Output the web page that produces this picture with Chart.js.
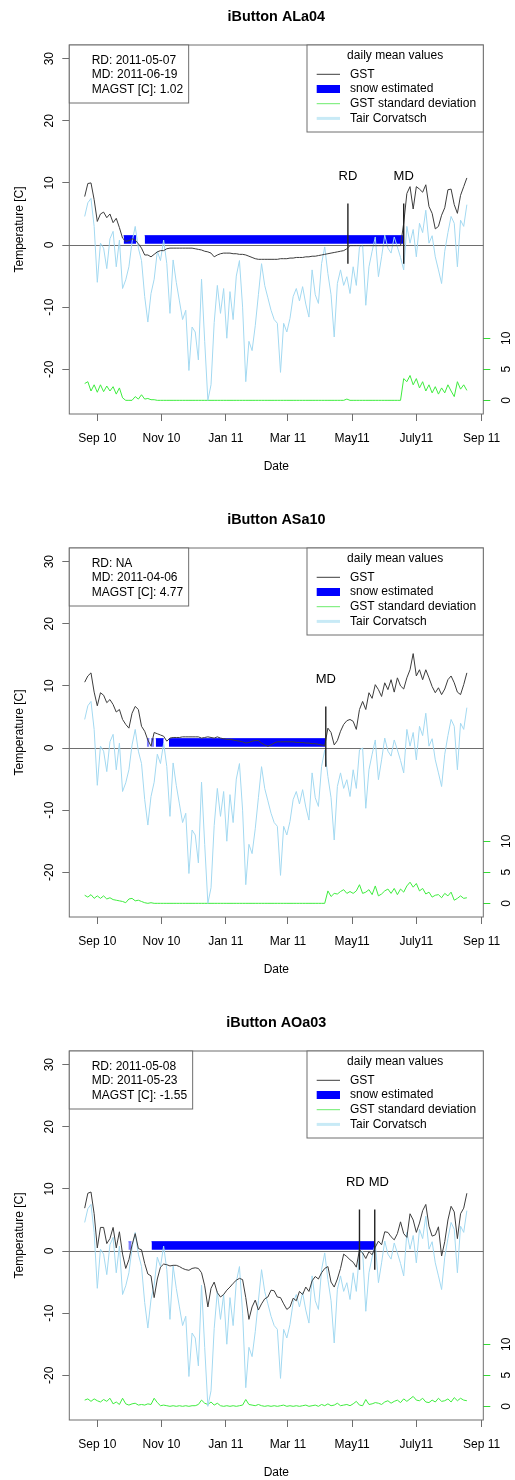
<!DOCTYPE html>
<html lang="en">
<head>
<meta charset="utf-8">
<title>iButton GST</title>
<script src="https://cdn.jsdelivr.net/npm/chart.js"></script>
<style>
  html, body { margin: 0; padding: 0; background: #fff; overflow: hidden; }
  .panel { position: absolute; left: 0; }
</style>
</head>
<body>
<canvas id="p0" class="panel" width="515" height="503" style="top:0px"></canvas>
<canvas id="p1" class="panel" width="515" height="503" style="top:503px"></canvas>
<canvas id="p2" class="panel" width="515" height="503" style="top:1006px"></canvas>
<script>
// daily means, read every 3rd day; day 0 = 2010-09-01
const firstDay = -12;
const stepDays = 3;

const tickDays = [0, 61, 122, 181, 242, 303, 365];
const tickLabels = ['Sep 10', 'Nov 10', 'Jan 11', 'Mar 11', 'May11', 'July11', 'Sep 11'];
const tempTicks = [-20, -10, 0, 10, 20, 30];
const sdTicks = [0, 5, 10];

// same air temperature in every panel
const tairCorvatsch = [
  4.6, 6.8, 7.5, 3.0, -6.0, 0.3, -0.5, -3.8, 1.0, 2.2,
  -3.5, 0.8, -7.0, -5.6, -3.5, 0.5, 3.0, -0.5, -2.5, -8.3,
  -12.4, -7.8, -5.5, -1.0, -2.5, 0.8, -3.0, -11.0, -2.4, -6.0,
  -9.0, -12.0, -10.5, -20.2, -13.2, -14.0, -18.5, -5.5, -15.5, -25.0,
  -22.5, -12.5, -6.5, -11.0, -7.0, -15.0, -7.5, -12.0, -5.0, -2.5,
  -10.0, -22.0, -15.5, -17.0, -13.0, -8.0, -3.0, -6.5, -8.5, -10.5,
  -12.0, -12.6, -20.5, -12.6, -14.0, -11.8, -8.3, -7.0, -9.0, -6.7,
  -9.5, -11.6, -4.0, -8.0, -9.4, -3.0, -0.3, -4.6, -8.0, -14.8,
  -6.2, -4.0, -6.5, -5.1, -7.8, -3.5, -6.5, -0.3, 0.0, -9.7,
  -3.5, -1.0, 1.3, -5.1, -1.9, 1.6, -0.5, -1.3, 1.3, -0.3,
  -2.0, -4.0, 3.0, 0.3, 2.5, -1.9, 3.5, 2.0, 5.6, 0.3,
  1.5, -1.9, -4.0, -6.2, -1.0, 2.0, 4.6, 3.5, -3.5, 4.0,
  3.0, 6.5
];

// ALa04
const gstALa04 = [
  7.8, 9.9, 10.0, 7.3, 3.8, 5.0, 5.3, 4.4, 5.0, 3.6,
  4.3, 2.8, 1.1, 0.6, 0.7, 1.0, 0.8, 0.2, -0.5, -1.6,
  -1.6, -1.9, -1.5, -1.1, -0.9, -0.9, -0.6, -0.5, -0.5, -0.5,
  -0.5, -0.5, -0.5, -0.5, -0.5, -0.6, -0.7, -0.8, -1.0, -1.1,
  -1.3, -1.9, -1.6, -1.4, -1.3, -1.3, -1.3, -1.4, -1.4, -1.5,
  -1.5, -1.6, -1.8, -2.0, -2.2, -2.3, -2.3, -2.3, -2.3, -2.3,
  -2.3, -2.3, -2.2, -2.2, -2.2, -2.1, -2.1, -2.0, -2.0, -2.0,
  -1.9, -1.9, -1.8, -1.8, -1.7, -1.6, -1.5, -1.4, -1.3, -1.2,
  -1.1, -1.0, -0.9, -0.6, -0.1, -0.1, -0.1, -0.1, -0.1, -0.1,
  -0.1, -0.1, -0.1, -0.1, -0.1, -0.1, -0.1, -0.1, -0.1, -0.1,
  -0.1, 3.5, 8.3, 9.4, 5.8, 9.4, 9.0, 8.5, 9.7, 6.2,
  5.1, 2.6, 3.0, 4.8, 6.0, 8.9, 9.0, 6.5, 5.1, 8.0,
  9.4, 10.8
];
const sdALa04 = [
  2.7, 3.0, 1.5, 2.5, 1.3, 2.5, 1.4, 2.3, 1.5, 2.2,
  1.0, 2.0, 0.4, 0.0, 0.0, 0.0, 0.6, 0.2, 0.9, 0.2,
  0.3, 0.1, 0.1, 0, 0, 0, 0, 0, 0, 0,
  0, 0, 0, 0, 0, 0, 0, 0, 0, 0,
  0, 0, 0, 0, 0, 0, 0, 0, 0, 0,
  0, 0, 0, 0, 0, 0, 0, 0, 0, 0,
  0, 0, 0, 0, 0, 0, 0, 0, 0, 0,
  0, 0, 0, 0, 0, 0, 0, 0, 0, 0,
  0, 0, 0, 0.2, 0, 0, 0, 0, 0, 0,
  0, 0, 0, 0, 0, 0, 0, 0, 0, 0,
  0, 3.5, 3.0, 4.0, 2.5, 3.5, 2.0, 3.0, 1.5, 2.5,
  1.2, 2.2, 1.0, 2.0, 1.2, 2.5, 1.5, 0.6, 3.0, 1.8,
  2.5, 1.6
];
const snowStartALa04 = [25, 45];
const snowEndALa04 = [37, 291];
const markLabelsALa04 = ['RD', 'MD'];
const markDaysALa04 = [238, 291];
const infoALa04 = ['RD: 2011-05-07', 'MD: 2011-06-19', 'MAGST [C]: 1.02'];

// ASa10
const gstASa10 = [
  10.6, 11.6, 12.1, 9.0, 6.8, 8.9, 8.5, 7.3, 7.8, 7.0,
  5.8, 6.2, 4.6, 3.8, 3.2, 5.6, 6.7, 6.2, 3.5, 2.7,
  1.3, 0.3, 2.5, 2.3, 2.1, 1.9, 1.1, 1.6, 1.7, 1.7,
  1.7, 1.8, 1.8, 1.8, 1.8, 1.8, 1.8, 1.6, 1.7, 1.8,
  1.7, 1.6, 1.8, 1.6, 1.5, 1.4, 1.4, 1.3, 1.2, 1.1,
  1.0, 0.8, 0.9, 1.1, 1.2, 1.2, 0.8, 0.5, 0.3, 0.5,
  0.8, 1.0, 1.0, 1.0, 1.0, 1.0, 1.0, 0.9, 0.9, 0.9,
  0.8, 0.8, 0.7, 0.7, 0.6, 0.5, 0.4, 3.2, 2.5, 0.5,
  1.2, 2.7, 3.8, 4.4, 4.6, 4.3, 3.0, 6.2, 7.5, 6.2,
  8.9, 8.0, 10.2, 9.4, 8.3, 10.5, 9.4, 11.0, 9.0, 11.3,
  10.0, 9.5, 11.3, 12.6, 15.2, 11.6, 12.6, 11.0, 12.6, 11.3,
  9.9, 8.9, 9.7, 8.6, 9.5, 11.0, 11.6, 10.5, 9.0, 8.6,
  10.2, 12.1
];
const sdASa10 = [
  1.3, 1.0, 1.4, 0.8, 1.2, 0.8, 1.2, 0.7, 0.9, 0.6,
  0.5, 0.4, 0.3, 0.1, 0.7, 0.8, 0.4, 0.5, 0.3, 0.1,
  0.0, 0.1, 0, 0, 0, 0, 0, 0, 0, 0,
  0, 0, 0, 0, 0, 0, 0, 0, 0, 0,
  0, 0, 0, 0, 0, 0, 0, 0, 0, 0,
  0, 0, 0, 0, 0, 0, 0, 0, 0, 0,
  0, 0, 0, 0, 0, 0, 0, 0, 0, 0,
  0, 0, 0, 0, 0, 0, 0, 2.0, 1.1, 1.6,
  1.5, 1.9, 2.2, 1.6, 1.9, 1.6, 2.0, 3.0, 1.6, 1.8,
  2.2, 1.4, 2.8, 1.2, 1.5, 2.0, 2.3, 1.6, 2.4, 1.4,
  2.3, 1.8, 2.8, 3.4, 2.6, 3.2, 2.0, 2.4, 1.5, 1.8,
  1.0, 1.3, 1.4, 0.9, 1.6, 1.2, 1.8, 0.5, 0.8, 1.2,
  0.8, 0.9
];
const snowStartASa10 = [47, 51, 55.5, 68];
const snowEndASa10 = [49.5, 54, 63, 216.5];
const markLabelsASa10 = ['MD'];
const markDaysASa10 = [217];
const infoASa10 = ['RD: NA', 'MD: 2011-04-06', 'MAGST [C]: 4.77'];

// AOa03
const gstAOa03 = [
  6.9, 9.3, 9.5, 6.0, 0.5, 3.8, 3.8, 1.2, 2.0, 3.8,
  0.5, 3.1, -0.5, -2.8, -1.4, 1.0, 2.8, 0.4, 0.2, -2.0,
  -3.7, -4.0, -7.5, -4.5, -2.6, -2.1, -2.2, -2.4, -2.3, -2.3,
  -2.5, -2.8, -3.0, -3.1, -2.8, -2.7, -2.8, -3.5, -5.6, -9.0,
  -6.0, -5.0, -6.7, -7.4, -7.0, -6.3, -5.8, -5.2, -4.7, -4.4,
  -4.6, -7.5, -11.0, -9.0, -7.9, -9.5, -8.5, -7.7, -7.4, -6.3,
  -6.4, -7.4, -7.5, -8.5, -9.4, -9.0, -7.6, -8.0, -6.5, -7.0,
  -5.8, -6.5, -4.8, -4.1, -4.5, -3.5, -2.8, -2.5, -5.0, -5.8,
  -4.5, -2.8, -0.5, -0.9, -1.4, -1.8, -2.6, 0.2, -0.3, -1.2,
  -0.1, -0.6, 0.6, 1.6, 1.0, 3.1, 3.0, 2.3, 1.8, 2.8,
  4.7, 2.8, 2.2, 6.0, 5.0, 3.0, 4.5, 6.5, 7.5, 4.0,
  2.4, 2.6, 3.9, -0.8, 1.5, 5.0, 7.2, 6.3, 2.0, 6.0,
  6.9, 9.3
];
const sdAOa03 = [
  1.0, 1.2, 0.8, 1.2, 0.9, 0.7, 1.1, 0.8, 1.3, 0.4,
  0.7, 0.3, 1.3, 0.4, 0.2, 0.4, 0.5, 0.2, 0.3, 0.2,
  0.4, 0.3, 1.3, 0.6, 0.1, 0.2, 0.1, 0.0, 0.1, 0.0,
  0.1, 0.0, 0.1, 0.0, 0.1, 0.1, 0.3, 1.0, 0.5, 0.3,
  0.7, 0.2, 0.5, 0.1, 0.0, 0.1, 0.0, 0.1, 0.0, 0.1,
  0.2, 1.1, 0.3, 0.2, 0.1, 0.3, 0.1, 0.0, 0.1, 0.0,
  0.1, 0.0, 0.1, 0.2, 0.0, 0.1, 0.0, 0.1, 0.0, 0.1,
  0.2, 0.0, 0.1, 0.2, 0.0, 0.3, 0.1, 0.4, 0.1, 0.2,
  0.5, 0.1, 0.2, 0.3, 0.1, 0.4, 0.8, 0.2, 0.1, 1.1,
  0.3, 0.4, 0.6, 0.5, 0.3, 0.7, 0.9, 0.5, 0.8, 1.0,
  0.6, 1.2, 0.8, 1.2, 1.6, 1.0, 0.9, 1.3, 0.7, 0.6,
  1.0, 0.7, 1.3, 0.8, 0.9, 1.2, 0.7, 1.4, 0.9, 1.3,
  1.0, 0.9
];
const snowStartAOa03 = [29.5, 51.5];
const snowEndAOa03 = [32.5, 263.5];
const markLabelsAOa03 = ['RD', 'MD'];
const markDaysAOa03 = [249, 263.5];
const infoAOa03 = ['RD: 2011-05-08', 'MD: 2011-05-23', 'MAGST [C]: -1.55'];

const snowTop = 1.5, snowBase = 0.2;
const markLow = -3, markHigh = 6.7, markText = 11;

const FONT = '"Liberation Sans", Arial, sans-serif';
const BOX = '#6e6e6e';
const GST_COLOR = '#3c3c3c';
const TAIR_COLOR = '#a3d9f1';
const SD_COLOR = '#3eec3e';
const SNOW_COLOR = '#0000ff';

function rotText(ctx, t, x, y) {
  ctx.save();
  ctx.translate(x, y);
  ctx.rotate(-Math.PI / 2);
  ctx.textAlign = 'center';
  ctx.textBaseline = 'middle';
  ctx.fillText(t, 0, 0);
  ctx.restore();
}

function textPlugin(p) {
  return {
    id: 'rtext',
    afterDraw(chart) {
      const ctx = chart.ctx, a = chart.chartArea;
      const ys = chart.scales.y, y2 = chart.scales.y2, xs = chart.scales.x;
      ctx.save();
      ctx.strokeStyle = BOX;
      ctx.lineWidth = 1;
      ctx.strokeRect(a.left, a.top, a.right - a.left, a.bottom - a.top);

      ctx.fillStyle = '#000';
      ctx.textAlign = 'center';
      ctx.textBaseline = 'middle';
      ctx.font = 'bold 14.4px ' + FONT;
      ctx.fillText(p.title, (a.left + a.right) / 2, 17);

      ctx.font = '12px ' + FONT;
      ctx.fillText('Date', (a.left + a.right) / 2, a.bottom + 53);
      rotText(ctx, 'Temperature [C]', 20, (a.top + a.bottom) / 2);
      tempTicks.forEach(v => rotText(ctx, String(v), a.left - 19.5, ys.getPixelForValue(v)));
      sdTicks.forEach(v => rotText(ctx, String(v), a.right + 23.4, y2.getPixelForValue(v)));

      // RD / MD labels
      ctx.font = '13px ' + FONT;
      const ty = ys.getPixelForValue(markText);
      const mx = p.markDays.map(d => xs.getPixelForValue(d));
      const mw = p.markLabels.map(s => ctx.measureText(s).width);
      for (let i = 1; i < mx.length; i++) {
        const need = (mw[i - 1] + mw[i]) / 2 + 4;
        const gap = mx[i] - mx[i - 1];
        if (gap < need) { mx[i - 1] -= (need - gap) / 2; mx[i] += (need - gap) / 2; }
      }
      p.markLabels.forEach((s, i) => ctx.fillText(s, mx[i], ty));

      // legend
      ctx.font = '12px ' + FONT;
      const lw = 176.3, lh = 87, lx = a.right - lw, ly = a.top;
      ctx.fillStyle = '#fff';
      ctx.fillRect(lx, ly, lw, lh);
      ctx.strokeStyle = BOX;
      ctx.lineWidth = 1;
      ctx.strokeRect(lx, ly, lw, lh);
      ctx.fillStyle = '#000';
      ctx.fillText('daily mean values', lx + lw / 2, ly + 10.7);
      const rows = [
        ['GST', GST_COLOR, 1],
        ['snow estimated', SNOW_COLOR, 8],
        ['GST standard deviation', '#6cec6c', 1],
        ['Tair Corvatsch', '#c8eaf6', 3]
      ];
      ctx.textAlign = 'left';
      rows.forEach((r, i) => {
        const yy = ly + 29.3 + i * 14.7;
        ctx.strokeStyle = r[1];
        ctx.lineWidth = r[2];
        ctx.beginPath();
        ctx.moveTo(lx + 9.7, yy);
        ctx.lineTo(lx + 33, yy);
        ctx.stroke();
        ctx.fillStyle = '#000';
        ctx.fillText(r[0], lx + 43, yy);
      });

      // info box
      const iw = Math.max(...p.info.map(s => ctx.measureText(s).width)) + 28;
      ctx.fillStyle = '#fff';
      ctx.fillRect(a.left, a.top, iw, 58);
      ctx.strokeStyle = BOX;
      ctx.lineWidth = 1;
      ctx.strokeRect(a.left, a.top, iw, 58);
      ctx.fillStyle = '#000';
      p.info.forEach((s, i) => ctx.fillText(s, a.left + 22.4, a.top + 15.3 + i * 14.5));
      ctx.restore();
    }
  };
}

function makePanel(id, p) {
  const pts = arr => arr.map((v, i) => ({x: firstDay + i * stepDays, y: v}));
  const datasets = [];
  p.markDays.forEach(d => datasets.push({
    data: [{x: d, y: markLow}, {x: d, y: markHigh}],
    borderColor: '#222', borderWidth: 1.4, order: 0
  }));
  datasets.push({data: pts(p.gst), borderColor: GST_COLOR, borderWidth: 1, order: 1});
  datasets.push({data: pts(tairCorvatsch), borderColor: TAIR_COLOR, borderWidth: 1, order: 2});
  datasets.push({data: pts(p.sd), yAxisID: 'y2', borderColor: SD_COLOR, borderWidth: 1, order: 3});
  p.snowStart.forEach((s, i) => {
    const e = p.snowEnd[i];
    const col = (e - s) < 4 ? 'rgba(0,0,255,0.5)' : SNOW_COLOR;
    datasets.push({
      data: [{x: s, y: snowTop}, {x: e, y: snowTop}],
      borderColor: col, backgroundColor: col, borderWidth: 1,
      fill: {value: snowBase}, order: 4
    });
  });

  new Chart(document.getElementById(id), {
    type: 'line',
    data: {datasets},
    options: {
      responsive: false,
      animation: false,
      events: [],
      devicePixelRatio: 1,
      layout: {padding: {top: 45, left: 0, right: 0, bottom: 0}},
      elements: {point: {radius: 0}, line: {tension: 0}},
      plugins: {legend: {display: false}, tooltip: {enabled: false}, title: {display: false}},
      scales: {
        x: {
          type: 'linear', min: -26.6, max: 366.6, bounds: 'data',
          afterBuildTicks: s => { s.ticks = tickDays.map(v => ({value: v})); },
          afterFit: s => { s.height = 89; s.paddingLeft = 0; s.paddingRight = 0; },
          ticks: {
            callback: (v, i) => tickLabels[i], autoSkip: false, maxRotation: 0, minRotation: 0,
            padding: 10, color: '#000', font: {family: FONT, size: 12}
          },
          grid: {drawOnChartArea: false, drawTicks: true, tickLength: 7, tickColor: BOX},
          border: {display: false}
        },
        y: {
          type: 'linear', position: 'left', min: -27.2, max: 32.2, bounds: 'data',
          afterBuildTicks: s => { s.ticks = tempTicks.map(v => ({value: v})); },
          afterFit: s => { s.width = 69.3; s.paddingTop = 0; s.paddingBottom = 0; },
          ticks: {display: false},
          grid: {
            drawOnChartArea: true, drawTicks: true, tickLength: 7, tickColor: BOX,
            color: c => (c.tick && c.tick.value === 0) ? BOX : 'rgba(0,0,0,0)'
          },
          border: {display: false}
        },
        y2: {
          type: 'linear', position: 'right', min: -2.2, max: 57.2, bounds: 'data',
          afterBuildTicks: s => { s.ticks = sdTicks.map(v => ({value: v})); },
          afterFit: s => { s.width = 31.7; s.paddingTop = 0; s.paddingBottom = 0; },
          ticks: {display: false},
          grid: {drawOnChartArea: false, drawTicks: true, tickLength: 7, tickColor: '#33dd33'},
          border: {display: false}
        }
      }
    },
    plugins: [textPlugin(p)]
  });
}

makePanel('p0', {
  title: 'iButton ALa04', gst: gstALa04, sd: sdALa04,
  snowStart: snowStartALa04, snowEnd: snowEndALa04,
  markLabels: markLabelsALa04, markDays: markDaysALa04, info: infoALa04
});
makePanel('p1', {
  title: 'iButton ASa10', gst: gstASa10, sd: sdASa10,
  snowStart: snowStartASa10, snowEnd: snowEndASa10,
  markLabels: markLabelsASa10, markDays: markDaysASa10, info: infoASa10
});
makePanel('p2', {
  title: 'iButton AOa03', gst: gstAOa03, sd: sdAOa03,
  snowStart: snowStartAOa03, snowEnd: snowEndAOa03,
  markLabels: markLabelsAOa03, markDays: markDaysAOa03, info: infoAOa03
});
</script>
</body>
</html>
